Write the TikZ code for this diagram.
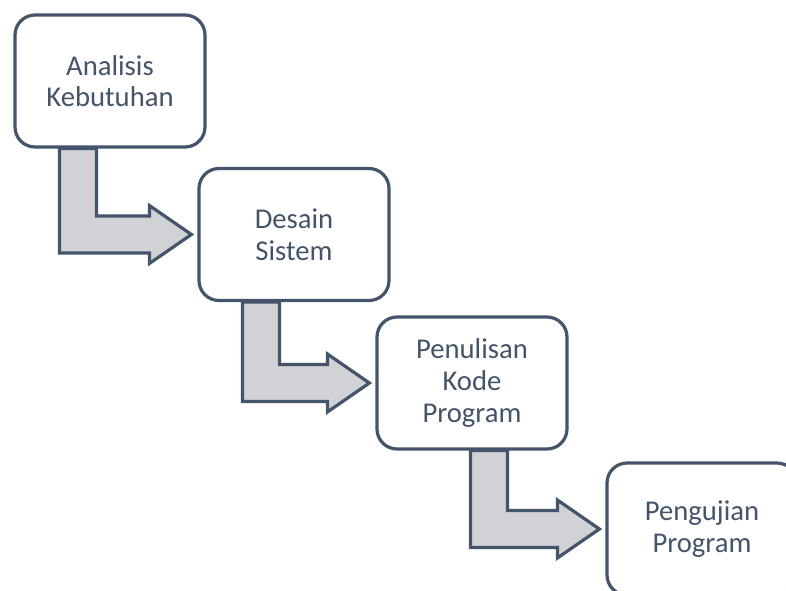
\documentclass[tikz,border=0pt]{standalone}
\usepackage{fontspec}
\setmainfont{Carlito}
\usetikzlibrary{calc}
\definecolor{ln}{HTML}{44546A}
\definecolor{af}{HTML}{D0D2D6}
\tikzset{
  stepbox/.style={draw=ln, line width=2.4pt, fill=white, rounded corners=15pt,
    minimum width=190*0.75pt, minimum height=132*0.75pt, inner sep=0pt,
    align=center, text=ln, font=\fontsize{21.5}{23.7}\selectfont},
  bent/.style={draw=ln, line width=2.4pt, fill=af, line join=miter}
}
\newcommand{\bentarrow}[3]{%
  \path ($(#1.south west)+(#3,0)$) coordinate (a#1) ($(#1.south west)+(#3+37,0)$) coordinate (b#1);
  \draw[bent] (a#1) -- ($(a#1 |- #2.west)+(0,18.5)$) -- ($(#2.west)+(-48,18.5)$)
    -- ($(#2.west)+(-48,29)$) -- ($(#2.west)+(-6,0)$) -- ($(#2.west)+(-48,-29)$)
    -- ($(#2.west)+(-48,-18.5)$) -- ($(b#1 |- #2.west)+(0,-18.5)$) -- (b#1) -- cycle;}
\begin{document}
\begin{tikzpicture}[x=0.75pt,y=-0.75pt]
\useasboundingbox (0,0) rectangle (786,590);
\clip (0,0) rectangle (786,590);
\node[stepbox] (n1) at (110,81) {Analisis\\Kebutuhan};
\node[stepbox] (n2) at (294,234.5) {Desain\\Sistem};
\node[stepbox] (n3) at (472,383) {Penulisan\\Kode\\Program};
\node[stepbox] (n4) at (702,529) {Pengujian\\Program};
\bentarrow{n1}{n2}{46}
\bentarrow{n2}{n3}{45}
\bentarrow{n3}{n4}{95}
\end{tikzpicture}
\end{document}
